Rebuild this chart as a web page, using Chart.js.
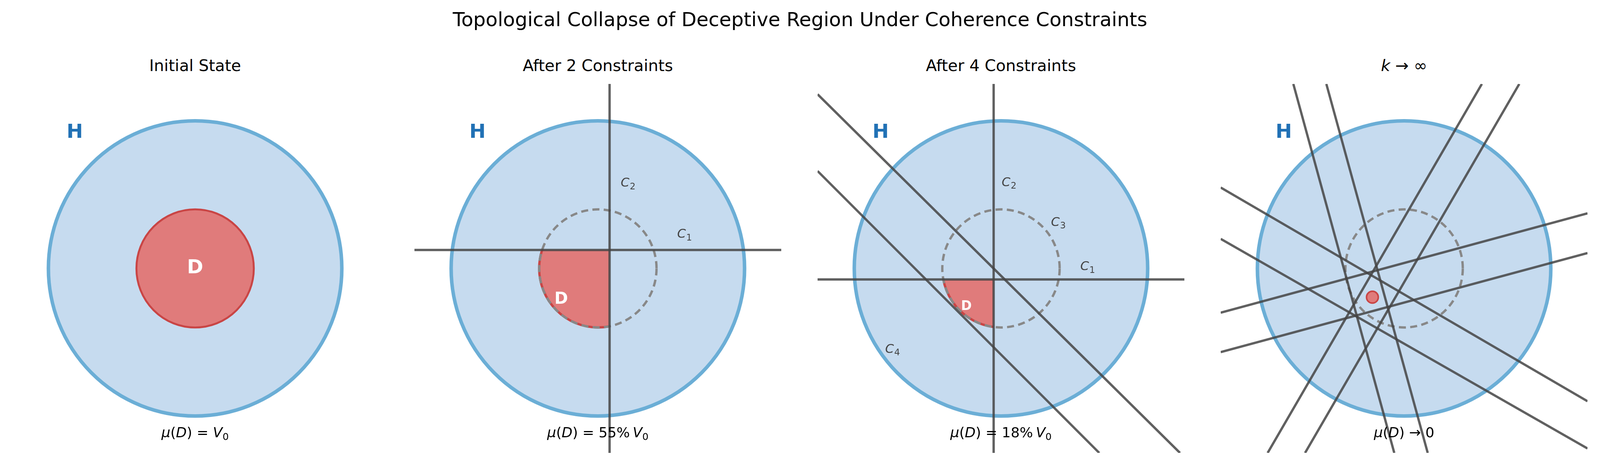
<!DOCTYPE html>
<html><head><meta charset="utf-8">
<script src="https://cdn.jsdelivr.net/npm/chart.js@4"></script>
<style>
html,body{margin:0;overflow:hidden}
body{width:4096px;height:1191px;background:#fff;position:relative;font-family:"DejaVu Sans",sans-serif}
.t{position:absolute;text-align:center;color:#000;white-space:nowrap}
.box{position:absolute}
</style></head><body>
<div class="t" style="left:0;width:4096px;top:21px;font-size:50px">Topological Collapse of Deceptive Region Under Coherence Constraints</div>
<script>
// ---- data ----
const panelTitles = ["Initial State", "After 2 Constraints", "After 4 Constraints", "k → ∞"];
const measureLabels = [["V",""], ["V","55%"], ["V","18%"], ["0","→"]];
const hCircle = [0, 0, 1.0];          // cx, cy, r
const dCircle = [0, 0, 0.4];
const cutX = [null, 0.08, -0.05, null];
const cutY = [null, 0.125, -0.075, null];
const linesP2 = [[0.08,-1.25,0.08,1.25],[-1.25,0.125,1.25,0.125]];
const linesP3 = [[-0.05,-1.25,-0.05,1.25],[-1.25,-0.075,1.25,-0.075],[-1.25,1.18,1.22,-1.25],[-1.25,0.66,0.67,-1.25]];
const linesP4 = [[-0.755,1.25,-0.067,-1.25],[-0.53,1.25,0.161,-1.25],[0.53,1.25,-0.93,-1.25],[0.785,1.25,-0.675,-1.25],
  [-1.25,0.548,1.25,-0.90],[-1.25,0.20,1.25,-1.22],[-1.25,-0.30,1.25,0.373],[-1.25,-0.567,1.25,0.104]];
const panelLines = [[], linesP2, linesP3, linesP4];
const cLabelsP2 = [["1",0.60,0.23],["2",0.215,0.576]];
const cLabelsP3 = [["1",0.60,0.01],["2",0.064,0.58],["3",0.40,0.31],["4",-0.73,-0.55]];
const cLabels = [[], cLabelsP2, cLabelsP3, []];
const dLabelPos = [[0,0,50],[-0.25,-0.21,42],[-0.236,-0.26,33],null];
const shrunkPoint = [-0.216,-0.195,0.04];   // cx, cy, r
const hLabelPos = [-0.82,0.92];
const measureY = -1.12;
// ---- layout ----
const lefts=[30,1061,2093,3125], TOP=215, W=939, H=945;

function drawCircle(ctx,x,y,c){
  const px=x.getPixelForValue(c[0]),py=y.getPixelForValue(c[1]);
  const rx=x.getPixelForValue(c[0]+c[2])-px, ry=py-y.getPixelForValue(c[1]+c[2]);
  ctx.beginPath();ctx.ellipse(px,py,rx,ry,0,0,Math.PI*2);
}
const geo={id:'geo',beforeDatasetsDraw(chart){
  const i=chart.options.plugins.geo.idx,ctx=chart.ctx,x=chart.scales.x,y=chart.scales.y;
  ctx.save();
  drawCircle(ctx,x,y,hCircle);ctx.fillStyle='#c6dbef';ctx.fill();ctx.lineWidth=9;ctx.strokeStyle='#6baed6';ctx.stroke();
  if(i<3){
    if(i===0){drawCircle(ctx,x,y,dCircle);ctx.fillStyle='#e07b7b';ctx.fill();ctx.lineWidth=5;ctx.strokeStyle='#c94545';ctx.stroke();}
    else{
      const cx=x.getPixelForValue(cutX[i]),cy=y.getPixelForValue(cutY[i]);
      ctx.save();ctx.beginPath();ctx.rect(0,cy,cx,chart.height);ctx.clip();
      drawCircle(ctx,x,y,dCircle);ctx.fillStyle='#e07b7b';ctx.fill();ctx.lineWidth=6;ctx.strokeStyle='#c94545';ctx.stroke();
      ctx.restore();
    }
  }
  if(i>0){drawCircle(ctx,x,y,dCircle);ctx.setLineDash([18,11]);ctx.lineWidth=6;ctx.strokeStyle='#888';ctx.stroke();ctx.setLineDash([]);}
  if(i===3){drawCircle(ctx,x,y,shrunkPoint);ctx.fillStyle='#e07b7b';ctx.fill();ctx.lineWidth=4;ctx.strokeStyle='#c94545';ctx.stroke();}
  ctx.restore();
},afterDatasetsDraw(chart){
  const i=chart.options.plugins.geo.idx,ctx=chart.ctx,x=chart.scales.x,y=chart.scales.y;
  ctx.save();ctx.textBaseline='middle';ctx.textAlign='center';
  ctx.fillStyle='#2171b5';ctx.font='bold 50px "DejaVu Sans"';
  ctx.fillText('H',x.getPixelForValue(hLabelPos[0]),y.getPixelForValue(hLabelPos[1]));
  if(dLabelPos[i]){ctx.fillStyle='#fff';ctx.font='bold '+dLabelPos[i][2]+'px "DejaVu Sans"';
    ctx.fillText('D',x.getPixelForValue(dLabelPos[i][0]),y.getPixelForValue(dLabelPos[i][1]));}
  ctx.fillStyle='#444';
  for(const [s,lx,ly] of cLabels[i]){
    const px=x.getPixelForValue(lx),py=y.getPixelForValue(ly);
    ctx.textAlign='right';ctx.font='italic 32px "DejaVu Sans"';ctx.fillText('C',px,py);
    ctx.textAlign='left';ctx.font='23px "DejaVu Sans"';ctx.fillText(s,px+1,py+9);
  }
  const m=measureLabels[i];
  const base=[['μ','italic 36px'],['(','36px'],['D','italic 36px'],[')','36px']];
  const parts = m[0]==='0' ? base.concat([[' → 0','36px']])
    : base.concat([[' = '+(m[1]?m[1]+'\u2009':''),'36px'],['V','italic 36px'],['0','25px',10]]);
  ctx.fillStyle='#000';ctx.textAlign='left';
  let tw=0;for(const p of parts){ctx.font=p[1]+' "DejaVu Sans"';tw+=ctx.measureText(p[0]).width;}
  let cx=x.getPixelForValue(0)-tw/2;const cy=y.getPixelForValue(measureY);
  for(const p of parts){ctx.font=p[1]+' "DejaVu Sans"';ctx.fillText(p[0],cx,cy+(p[2]||0));cx+=ctx.measureText(p[0]).width;}
  ctx.restore();
}};
Chart.register(geo);

panelTitles.forEach((t,i)=>{
  const d=document.createElement('div');d.className='t';
  d.style.cssText=`left:${lefts[i]}px;width:${W}px;top:144px;font-size:41px`;
  d.innerHTML = i===3 ? '<i>k</i> → ∞' : t;
  document.body.appendChild(d);
  const box=document.createElement('div');box.className='box';
  box.style.cssText=`left:${lefts[i]}px;top:${TOP}px;width:${W}px;height:${H}px`;
  const c=document.createElement('canvas');box.appendChild(c);document.body.appendChild(box);
  const datasets=panelLines[i].map(l=>({type:'line',data:[{x:l[0],y:l[1]},{x:l[2],y:l[3]}],
    borderColor:'rgba(68,68,68,0.85)',borderWidth:6,pointRadius:0,showLine:true}));
  new Chart(c,{type:'scatter',data:{datasets},options:{responsive:true,maintainAspectRatio:false,animation:false,devicePixelRatio:1,
    layout:{padding:0},
    scales:{x:{type:'linear',min:-1.25,max:1.25,display:false},y:{type:'linear',min:-1.25,max:1.25,display:false}},
    plugins:{legend:{display:false},tooltip:{enabled:false},geo:{idx:i}}}});
});
</script></body></html>
